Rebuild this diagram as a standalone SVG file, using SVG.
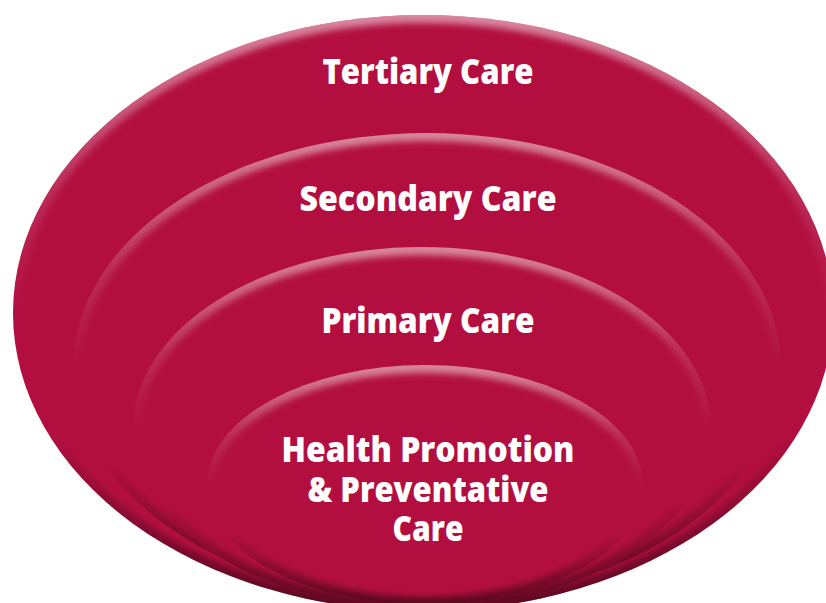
<svg xmlns="http://www.w3.org/2000/svg" width="826" height="603" viewBox="0 0 826 603">
  <defs>
    <style>
      .disc { fill: #B20F40; }
      .rim { fill: none; stroke: url(#rimGrad); stroke-width: 16; filter: url(#soft); }
      .label { font-family: "Open Sans", "Noto Sans", "Liberation Sans", sans-serif; font-weight: 800; font-size: 35px; fill: #FFFFFF; text-anchor: middle; }
    </style>
    <linearGradient id="rimGrad" x1="0" y1="0" x2="0" y2="1">
      <stop offset="0" stop-color="#FFFFFF" stop-opacity="0.5"/>
      <stop offset="0.3" stop-color="#FFFFFF" stop-opacity="0.12"/>
      <stop offset="0.5" stop-color="#FFFFFF" stop-opacity="0"/>
      <stop offset="0.7" stop-color="#000000" stop-opacity="0"/>
      <stop offset="1" stop-color="#000000" stop-opacity="0.5"/>
    </linearGradient>
    <filter id="soft" x="-10%" y="-10%" width="120%" height="120%">
      <feGaussianBlur stdDeviation="3"/>
    </filter>
    <clipPath id="cOuter"><ellipse cx="423" cy="313" rx="410" ry="298"/></clipPath>
    <clipPath id="cSecondary"><ellipse cx="427" cy="367" rx="354" ry="234"/></clipPath>
    <clipPath id="cPrimary"><ellipse cx="422" cy="428" rx="289" ry="181"/></clipPath>
    <clipPath id="cHealth"><ellipse cx="425" cy="485" rx="218" ry="120"/></clipPath>
  </defs>

  <rect width="826" height="603" fill="#FFFFFF"/>

  <g id="tertiary-care">
    <ellipse class="disc" cx="423" cy="313" rx="410" ry="298"/>
    <g clip-path="url(#cOuter)">
      <ellipse class="rim" cx="423" cy="313" rx="410" ry="298"/>
    </g>
    <text class="label" x="428" y="84" textLength="211" lengthAdjust="spacingAndGlyphs">Tertiary Care</text>
  </g>

  <g id="secondary-care">
    <ellipse class="disc" cx="427" cy="367" rx="354" ry="234"/>
    <g clip-path="url(#cSecondary)">
      <ellipse class="rim" cx="427" cy="367" rx="354" ry="234"/>
    </g>
    <text class="label" x="428" y="211" textLength="257" lengthAdjust="spacingAndGlyphs">Secondary Care</text>
  </g>

  <g id="primary-care">
    <ellipse class="disc" cx="422" cy="428" rx="289" ry="181"/>
    <g clip-path="url(#cPrimary)">
      <ellipse class="rim" cx="422" cy="428" rx="289" ry="181"/>
    </g>
    <text class="label" x="428" y="333" textLength="213" lengthAdjust="spacingAndGlyphs">Primary Care</text>
  </g>

  <g id="health-promotion">
    <ellipse class="disc" cx="425" cy="485" rx="218" ry="120"/>
    <g clip-path="url(#cHealth)">
      <ellipse class="rim" cx="425" cy="485" rx="218" ry="120"/>
    </g>
    <text class="label" x="428" y="462" textLength="293" lengthAdjust="spacingAndGlyphs">Health Promotion</text>
    <text class="label" x="428" y="502" textLength="241" lengthAdjust="spacingAndGlyphs">&amp; Preventative</text>
    <text class="label" x="428" y="541" textLength="71" lengthAdjust="spacingAndGlyphs">Care</text>
  </g>
</svg>
